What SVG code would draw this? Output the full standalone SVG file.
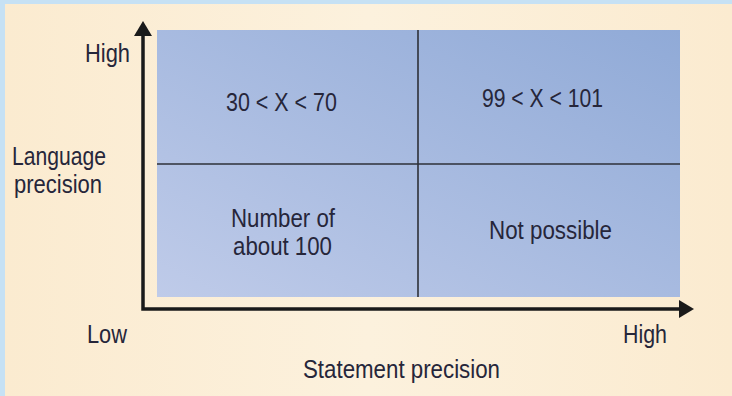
<svg xmlns="http://www.w3.org/2000/svg" width="732" height="396" viewBox="0 0 732 396">
<defs>
<linearGradient id="bg" x1="0" y1="0" x2="1" y2="0">
<stop offset="0" stop-color="#fbebd0"/>
<stop offset="0.5" stop-color="#fcf1dd"/>
<stop offset="1" stop-color="#fbebd0"/>
</linearGradient>
<linearGradient id="panel" x1="0" y1="1" x2="1" y2="0">
<stop offset="0" stop-color="#bfcbe9"/>
<stop offset="1" stop-color="#90aad7"/>
</linearGradient>
<style>
text{font-family:"Liberation Sans",Arial,sans-serif;font-size:26px;fill:#26263a;}
.axis{stroke:#1a1a1a;stroke-width:3.5;fill:none;}
.div{stroke:#2e3038;stroke-width:1.6;fill:none;}
.head{fill:#1a1a1a;}
</style>
</defs>
<rect x="0" y="0" width="732" height="396" fill="#c6e1f4"/>
<rect x="5" y="4" width="727" height="392" fill="url(#bg)"/>
<g id="panel-area">
<rect x="157" y="30" width="523" height="267" fill="url(#panel)"/>
</g>
<g id="connectors">
<line class="div" x1="418" y1="30" x2="418" y2="297"/>
<line class="div" x1="157" y1="164" x2="680" y2="164"/>
<polyline class="axis" points="143,33 143,309 683,309"/>
<polygon class="head" points="143,21 152,36 134,36"/>
<polygon class="head" points="694,309 679,300 679,318"/>
</g>
<g id="axis-labels">
<text x="85" y="62" textLength="45" lengthAdjust="spacingAndGlyphs">High</text>
<text x="12" y="165" textLength="94" lengthAdjust="spacingAndGlyphs">Language</text>
<text x="14" y="193" textLength="88" lengthAdjust="spacingAndGlyphs">precision</text>
<text x="87" y="343" textLength="40" lengthAdjust="spacingAndGlyphs">Low</text>
<text x="623" y="343" textLength="44" lengthAdjust="spacingAndGlyphs">High</text>
<text x="303" y="378" textLength="197" lengthAdjust="spacingAndGlyphs">Statement precision</text>
</g>
<g id="q-top-left">
<text x="226" y="111" textLength="111" lengthAdjust="spacingAndGlyphs">30 &lt; X &lt; 70</text>
</g>
<g id="q-top-right">
<text x="482" y="107" textLength="121" lengthAdjust="spacingAndGlyphs">99 &lt; X &lt; 101</text>
</g>
<g id="q-bottom-left">
<text x="231" y="227" textLength="104" lengthAdjust="spacingAndGlyphs">Number of</text>
<text x="233" y="255" textLength="99" lengthAdjust="spacingAndGlyphs">about 100</text>
</g>
<g id="q-bottom-right">
<text x="489" y="239" textLength="123" lengthAdjust="spacingAndGlyphs">Not possible</text>
</g>
</svg>
